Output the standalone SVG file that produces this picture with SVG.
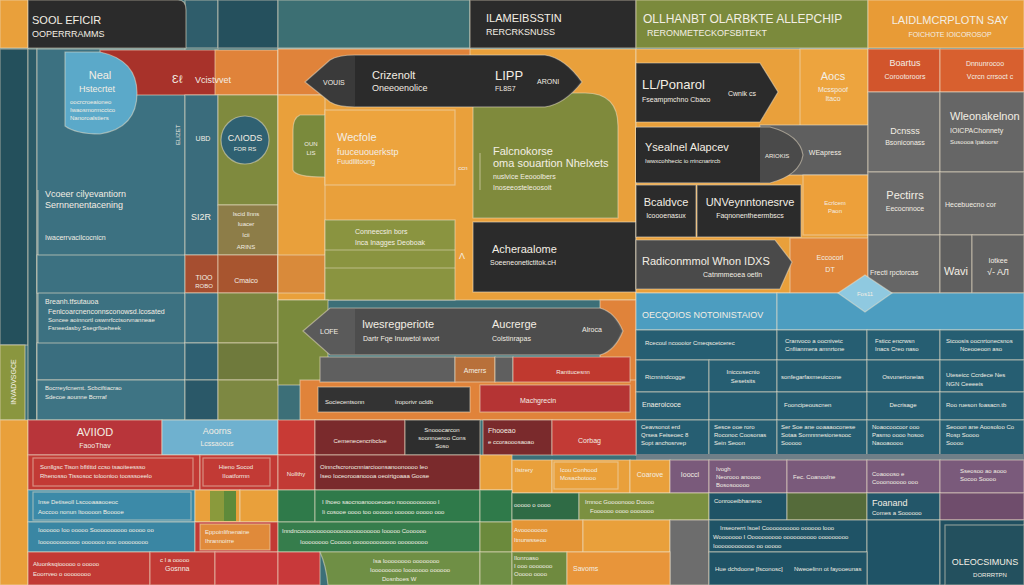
<svg xmlns="http://www.w3.org/2000/svg" width="1024" height="585" viewBox="0 0 1024 585">
<style>
rect,path,polygon,circle{stroke:#efe3cc;stroke-opacity:.5;stroke-width:1.2}
.n{stroke:none}
text{font-family:"Liberation Sans",Arial,sans-serif;fill:#f3eee4}
.xs{font-size:6px}.s{font-size:7px}.m{font-size:9px}.l{font-size:11px}.xl{font-size:13px}
.c{text-anchor:middle}
.or{fill:#E9A03B}.do{fill:#E0833A}.ch{fill:#2b2b2b}.gr{fill:#5f5f5f}.tl{fill:#3c7181}.dt{fill:#24505c}.ol{fill:#7f8a3e}.rd{fill:#c23a35}.dr{fill:#7a2a2c}.lb{fill:#4c9dc0}.pu{fill:#7a5a7b}.gn{fill:#2f7a4a}.ct{fill:#265e72}
</style>
<rect class="n" x="0" y="0" width="1024" height="585" fill="#3c6f78"/>
<!-- top row -->
<g id="top">
<rect class="or" x="0" y="0" width="28" height="48"/>
<rect x="185" y="0" width="33" height="48" fill="#2f5d6b"/>
<rect x="218" y="0" width="60" height="48" fill="#25505d"/>
<rect x="278" y="0" width="192" height="48" fill="#3c6f73"/>
<path class="ch" d="M28,0 H178 Q186,0 186,10 V48 H28 Z"/>
<text x="32" y="24" class="l">SOOL EFICIR</text>
<text x="32" y="37" class="m">OOPERRRAMMS</text>
<rect class="ch" x="470" y="0" width="166" height="48"/>
<text x="486" y="22" class="l">ILAMEIBSSTIN</text>
<text x="486" y="35" class="m">RERCRKSNUSS</text>
<rect x="636" y="0" width="232" height="48" fill="#7b8a3c"/>
<text x="643" y="23" style="font-size:12px">OLLHANBT OLARBKTE ALLEPCHIP</text>
<text x="647" y="36" class="m">RERONMETECKOFSBITEKT</text>
<rect x="868" y="0" width="156" height="48" fill="#E89B36"/>
<text x="950" y="24" class="l c">LAIDLMCRPLOTN SAY</text>
<text x="950" y="37" class="s c">FOICHOTE IOICOROSOP</text>
</g>
<!-- left column -->
<g id="left">
<rect class="dt" x="0" y="49" width="28" height="296"/>
<rect x="28" y="49" width="9" height="371" fill="#2b5a66"/>
<rect class="tl" x="37" y="49" width="148" height="371"/>
<rect x="100" y="50" width="118" height="45" fill="#a8322a"/>
<rect class="do" x="215" y="50" width="63" height="45"/>
<text x="172" y="83" class="l">Ɛℓ</text>
<text x="195" y="83" class="m">Vcistvvet</text>
<path d="M65,52 H100 Q137,60 137,93 Q137,128 100,134 Q76,134 65,126 Z" fill="#5ba9c9"/>
<text x="100" y="79" class="l c">Neal</text>
<text x="97" y="92" class="m c">Hstecrtet</text>
<text x="70" y="104" class="xs">oocrcroeaioneo</text>
<text x="70" y="112" class="xs">Iwaosmormcctco</text>
<text x="70" y="120" class="xs">Nanoroalstiers</text>
<text x="180" y="145" class="xs" transform="rotate(-90 180 145)">ELIZET</text>
<path d="M38,190 V255 M38,293 V420" fill="none"/>
<text x="45" y="197" class="m">Vcoeer cilyevantiorn</text>
<text x="45" y="208" class="m">Sernnenentacening</text>
<text x="45" y="240" class="s">Iwacerrvacilcocnicn</text>
<rect class="tl" x="37" y="255" width="148" height="38"/>
<text x="45" y="304" class="s">Breanh.tfsutauoa</text>
<text x="48" y="314" class="s">Fenlcoarcnenconnsconowsd.lcosated</text>
<text x="48" y="322" class="xs">Soncee aoinnortl oswnrfcctsorvnanneae</text>
<text x="48" y="330" class="xs">Fsneedasby Ssegrfioeheek</text>
<rect x="37" y="343" width="148" height="37" fill="#3a6e7f"/>
<rect x="37" y="380" width="148" height="40" fill="#3e7484"/>
<text x="45" y="390" class="xs">Bocrreyfcnernt. Scbciftiacrao</text>
<text x="45" y="399" class="xs">Sdecoe aounne Bcrrraf</text>
<rect x="0" y="345" width="25" height="75" fill="#8a963f"/>
<text x="16" y="382" class="s c" transform="rotate(-90 16 382)">INVADVSGCE</text>
<rect class="or" x="0" y="420" width="28" height="165"/>
<rect x="185" y="95" width="33" height="160" fill="#3a6c7c"/>
<text x="203" y="141" class="s c">UBD</text>
<text x="201" y="220" class="m c">SI2R</text>
<rect x="185" y="255" width="33" height="38" fill="#a64e30"/>
<text x="204" y="280" class="s c">TIOO</text>
<text x="204" y="288" class="xs c">ROBO</text>
<rect x="185" y="293" width="33" height="50" fill="#3b6f80"/>
<rect x="185" y="343" width="33" height="37" fill="#2e6072"/>
<rect x="185" y="380" width="33" height="40" fill="#2a5868"/>
<rect class="ol" x="218" y="95" width="60" height="110"/>
<circle cx="245" cy="140" r="24" fill="#2f6172"/>
<text x="245" y="141" class="m c">CΛIODS</text>
<text x="245" y="151" class="xs c">FOR RS</text>
<rect x="218" y="205" width="60" height="50" fill="#8d7d48"/>
<text x="246" y="216" class="xs c">Iscid Ilnns</text>
<text x="246" y="226" class="xs c">Iuacer</text>
<text x="246" y="237" class="xs c">Icii</text>
<text x="246" y="249" class="xs c">ARINS</text>
<rect x="218" y="255" width="60" height="38" fill="#a8552f"/>
<text x="246" y="283" class="s c">Cmaico</text>
<rect x="218" y="293" width="60" height="50" fill="#7b8540"/>
<rect x="218" y="343" width="60" height="37" fill="#6f7a3c"/>
<rect x="218" y="380" width="60" height="40" fill="#7d8842"/>
</g>
<!-- centre -->
<g id="centre">
<rect class="or" x="278" y="49" width="358" height="251"/>
<rect class="do" x="278" y="49" width="192" height="46"/>
<rect class="or" x="278" y="95" width="47" height="205"/>
<path d="M325,115 H300 Q293,118 293,130 V170 Q295,177 325,177 Z" fill="#7a8a3c"/>
<text x="311" y="146" class="xs c">OUN</text>
<text x="311" y="155" class="xs c">LIS</text>
<rect x="278" y="255" width="47" height="38" fill="#d98a3a"/>
<rect x="325" y="110" width="130" height="75" fill="#EDA43E"/>
<text x="337" y="141" class="l">Wecfole</text>
<text x="337" y="155" class="m">fuuceuouerkstp</text>
<text x="337" y="164" class="s">Fuudllitoong</text>
<rect x="325" y="220" width="130" height="80" fill="#8a9440"/>
<path d="M325,250 H455 M325,268 H455" fill="none"/>
<text x="355" y="234" class="s">Conneecsin bors</text>
<text x="355" y="245" class="s">Inca Inagges Deoboak</text>
<text x="463" y="170" class="xs c">ccn</text>
<text x="462" y="259" class="m c">Ʌ</text>
<path d="M473,93 H585 Q618,93 618,126 V218 H473 Z" fill="#7f8a3c"/>
<path d="M480,153 V190" fill="none"/>
<text x="493" y="155" class="l">Falcnokorse</text>
<text x="493" y="167" class="l">oma souartion Nhelxets</text>
<text x="493" y="179" class="s">nuslvice Eeooolbers</text>
<text x="493" y="190" class="s">Inoseeosteleoosoit</text>
<rect class="ch" x="473" y="222" width="163" height="70"/>
<text x="492" y="253" class="l">Acheraalome</text>
<text x="490" y="265" class="s">Soeeneonetictitok.cH</text>
<path d="M305,82 L330,60 Q338,55 355,55 L545,55 Q565,58 582,82 Q565,104 545,107 L355,107 Q338,107 330,102 Z" fill="#3a3a3a" stroke="#c8b89a" stroke-opacity="1" stroke-width="2"/>
<path class="n ch" d="M355,56 L545,56 Q564,59 580,82 Q564,103 545,106 L355,106 Z"/>
<text x="323" y="85" class="s">VOUIS</text>
<text x="372" y="79" class="l">Crizenolt</text>
<text x="372" y="91" class="m">Oneeoenolice</text>
<text x="495" y="80" class="xl">LIPP</text>
<text x="495" y="91" class="s">FL8S7</text>
<text x="537" y="84" class="s">ARONI</text>
</g>
<!-- middle left band -->
<g id="midband">
<rect x="278" y="300" width="50" height="85" fill="#7a8a3c"/>
<rect class="do" x="600" y="300" width="36" height="85"/>
<rect class="do" x="300" y="380" width="336" height="40"/>
<path d="M303,331 L330,308 H600 Q615,312 623,331 Q615,351 600,355 H330 Z" fill="#5a5a5a"/>
<path class="n" d="M355,309 H600 Q614,313 621,331 Q614,350 600,354 H355 Z" fill="#4d4d4d"/>
<text x="320" y="334" class="s">LOFE</text>
<text x="362" y="328" class="l">Iwesregperiote</text>
<text x="363" y="341" class="s">Dartr Fqe Inuwetol wvort</text>
<text x="492" y="328" class="l">Aucrerge</text>
<text x="492" y="341" class="s">Colstinrapas</text>
<text x="582" y="332" class="s">Alroca</text>
<rect class="gr" x="320" y="357" width="135" height="25"/>
<rect x="455" y="357" width="40" height="25" fill="#b8703a"/>
<text x="475" y="373" class="s c">Amerrs</text>
<rect class="gr" x="495" y="357" width="18" height="25"/>
<rect x="513" y="357" width="117" height="25" fill="#c0392f"/>
<text x="573" y="374" class="xs c">Ranttucesnn</text>
<rect x="318" y="387" width="152" height="25" fill="#333"/>
<text x="325" y="404" class="xs">Sociecentsonn</text>
<text x="395" y="404" class="xs">Iroporivr ocldb</text>
<rect x="480" y="385" width="150" height="27" fill="#b53434"/>
<text x="538" y="403" class="s c">Machgrecin</text>
</g>
<!-- right dark boxes -->
<g id="rightmid">
<rect class="or" x="636" y="49" width="232" height="244"/>
<rect x="800" y="49" width="68" height="78" fill="#EDA43E"/>
<text x="833" y="80" class="l c">Aocs</text>
<text x="833" y="92" class="s c">Mcsspoof</text>
<text x="833" y="101" class="s c">Itaco</text>
<path class="ch" d="M636,63 H760 L778,92 L760,122 H636 Z"/>
<text x="642" y="89" class="xl">LL/Ponarol</text>
<text x="642" y="102" class="s">Fseampmchno Cbaco</text>
<text x="728" y="96" class="s">Cwnik cs</text>
<rect class="gr" x="760" y="125" width="108" height="50" fill="#6a6a6a"/>
<text x="825" y="155" class="s c">WEapress</text>
<path d="M636,127 H770 Q800,135 803,155 Q800,175 770,183 H636 Z" fill="#4a4a4a"/>
<path class="n ch" d="M636,128 H760 V182 H636 Z"/>
<text x="645" y="151" class="l">Ysealnel Alapcev</text>
<text x="645" y="163" class="xs">Iwwxcohhecic io rrincnartrcb</text>
<text x="765" y="158" class="xs">ARIOKIS</text>
<rect class="ch" x="636" y="185" width="60" height="52"/>
<text x="666" y="206" class="l c">Bcaldvce</text>
<text x="666" y="218" class="s c">Icoooenasux</text>
<rect class="ch" x="697" y="185" width="104" height="52"/>
<text x="750" y="206" class="l c">UNVeynntonesrve</text>
<text x="750" y="218" class="s c">Faqnonentheermbscs</text>
<rect x="803" y="175" width="65" height="60" fill="#EDA03A"/>
<text x="835" y="205" class="xs c">Ecrlcem</text>
<text x="835" y="213" class="xs c">Paon</text>
<rect x="790" y="238" width="78" height="55" fill="#E0863A"/>
<text x="830" y="260" class="s c">Eccocorl</text>
<text x="830" y="272" class="s c">DT</text>
<path d="M636,240 H775 L792,262 L780,289 H636 Z" fill="#4a4a4a"/>
<text x="642" y="265" class="l">Radiconmmol Whon IDXS</text>
<text x="703" y="277" class="s">Catnmmeoea oetln</text>
</g>
<!-- far right -->
<g id="farright">
<rect x="868" y="49" width="72" height="43" fill="#d2552c"/>
<text x="905" y="66" class="m c">Boartus</text>
<text x="905" y="79" class="s c">Corootoroors</text>
<rect x="940" y="49" width="84" height="43" fill="#d8602f"/>
<text x="985" y="66" class="s c">Dnnunrocoo</text>
<text x="990" y="79" class="s c">Vcrcn crrsoct c</text>
<rect x="868" y="92" width="72" height="80" fill="#6a6a6a"/>
<text x="905" y="134" class="m c">Dcnsss</text>
<text x="905" y="145" class="s c">Bsoniconass</text>
<rect x="940" y="92" width="84" height="80" fill="#666"/>
<text x="950" y="120" class="l">Wleonakelnon</text>
<text x="950" y="133" class="s">IOICPAChonnety</text>
<text x="950" y="144" class="xs">Susoooa lpaloorsr</text>
<rect x="868" y="172" width="72" height="63" fill="#6a6a6a"/>
<text x="905" y="199" class="l c">Pectirrs</text>
<text x="905" y="211" class="s c">Eecocnnoce</text>
<rect x="940" y="172" width="84" height="63" fill="#676767"/>
<text x="945" y="207" class="s">Hecebuecno cor</text>
<rect x="868" y="235" width="72" height="58" fill="#666"/>
<text x="870" y="275" class="s">Frecti rpctorcas</text>
<rect x="940" y="235" width="32" height="58" fill="#5f5f5f"/>
<text x="956" y="275" class="l c">Wavi</text>
<rect x="972" y="235" width="52" height="58" fill="#626262"/>
<text x="998" y="263" class="s c">Iotkee</text>
<text x="998" y="275" class="m c">√- AЛ</text>
</g>
<!-- blue table -->
<g id="table">
<rect class="lb" x="636" y="293" width="141" height="37"/>
<rect class="lb" x="777" y="293" width="247" height="37"/>
<text x="642" y="318" class="m">OECQOIOS NOTOINISTAIOV</text>
<rect class="ct" x="636" y="330" width="141" height="30"/>
<text x="645" y="345" class="xs">Rcecoul ncoooior Cmeqscetcerec</text>
<rect class="ct" x="777" y="330" width="90" height="30"/>
<text x="785" y="343" class="xs">Cranvoco a oocnivetc</text>
<text x="785" y="351" class="xs">Cnfiianmera amnrtone</text>
<rect class="ct" x="867" y="330" width="73" height="30"/>
<text x="875" y="343" class="xs">Fsticc encrwsn</text>
<text x="875" y="351" class="xs">Inacs Creo naso</text>
<rect class="ct" x="940" y="330" width="84" height="30" fill="#2f7089"/>
<text x="946" y="343" class="xs">Stcoosis oocnrtonecsnos</text>
<text x="960" y="351" class="xs">Nceooeoon aso</text>
<rect class="ct" x="636" y="360" width="73" height="32"/>
<text x="645" y="379" class="xs">Rtcnnindcogge</text>
<rect class="ct" x="709" y="360" width="68" height="32"/>
<text x="743" y="374" class="xs c">Iniccosecnio</text>
<text x="743" y="383" class="xs c">Sesetsits</text>
<rect class="ct" x="777" y="360" width="90" height="32"/>
<text x="781" y="379" class="xs">sonfegarfaxmeuiccone</text>
<rect class="ct" x="867" y="360" width="73" height="32"/>
<text x="903" y="379" class="xs c">Osvunerioneias</text>
<rect class="ct" x="940" y="360" width="84" height="32"/>
<text x="946" y="377" class="xs">Uteseicc Ccrdece Nes</text>
<text x="946" y="386" class="xs">NGN Ceeeeis</text>
<rect class="ct" x="636" y="392" width="73" height="28" fill="#235a6d"/>
<text x="642" y="407" class="s">Enaeroicoce</text>
<rect class="ct" x="709" y="392" width="68" height="28" fill="#235a6d"/>
<rect class="ct" x="777" y="392" width="90" height="28" fill="#235a6d"/>
<text x="784" y="407" class="xs">Fooncipeouscnen</text>
<rect class="ct" x="867" y="392" width="73" height="28" fill="#235a6d"/>
<text x="903" y="407" class="xs c">Decrisage</text>
<rect class="ct" x="940" y="392" width="84" height="28" fill="#235a6d"/>
<text x="946" y="407" class="xs">Roo rueson foasacn.tb</text>
<rect class="ct" x="636" y="420" width="73" height="35" fill="#205468"/>
<text x="641" y="429" class="xs">Ceavsonot erd</text>
<text x="641" y="437" class="xs">Qrsea Feiseoec 8</text>
<text x="641" y="445" class="xs">Sopt anchosrvep</text>
<rect class="ct" x="709" y="420" width="68" height="35" fill="#205468"/>
<text x="714" y="429" class="xs">Sesce ooe roro</text>
<text x="714" y="437" class="xs">Roconoc Coosonas</text>
<text x="714" y="445" class="xs">Sein Seoon</text>
<rect class="ct" x="777" y="420" width="90" height="35" fill="#205468"/>
<text x="781" y="429" class="xs">Ser Soe ane ooaaaoconese</text>
<text x="781" y="437" class="xs">Sotaa Somnnnesionesooc</text>
<text x="781" y="445" class="xs">Sooooo</text>
<rect class="ct" x="867" y="420" width="73" height="35" fill="#205468"/>
<text x="872" y="429" class="xs">Noaocoocoor ooo</text>
<text x="872" y="437" class="xs">Pasmo oooo hosoo</text>
<text x="872" y="445" class="xs">Naooaoooo</text>
<rect class="ct" x="940" y="420" width="84" height="35" fill="#205468"/>
<text x="946" y="429" class="xs">Seooon ane Aoosoloo Co</text>
<text x="946" y="437" class="xs">Rosp Soooo</text>
<text x="946" y="445" class="xs">Soooo</text>
<rect class="n" x="636" y="454" width="388" height="6" fill="#6f7f88"/>
</g>
<!-- lower rows -->
<g id="lower">
<rect x="28" y="420" width="134" height="35" fill="#b8353a"/>
<text x="95" y="436" class="l c">AVIIOD</text>
<text x="95" y="448" class="s c">FaooThav</text>
<rect x="162" y="420" width="116" height="35" fill="#6fb1cf"/>
<text x="217" y="434" class="m c">Aoorns</text>
<text x="217" y="446" class="s c">Lcssaocus</text>
<rect x="278" y="420" width="37" height="35" fill="#c83a35"/>
<rect class="dr" x="315" y="420" width="90" height="35"/>
<text x="360" y="443" class="xs c">Cemenecencribcloe</text>
<rect x="405" y="420" width="75" height="35" fill="#2e2e2e"/>
<text x="442" y="432" class="xs c">Snooocarcon</text>
<text x="442" y="440" class="xs c">soonnoeroo Cons</text>
<text x="442" y="448" class="xs c">Soso</text>
<rect class="dr" x="483" y="420" width="69" height="35"/>
<text x="488" y="433" class="s">Fhooeao</text>
<text x="488" y="444" class="xs">e ccoraooosaoao</text>
<rect class="rd" x="552" y="420" width="84" height="35" fill="#cc3c36"/>
<text x="578" y="443" class="s">Corbag</text>

<rect class="rd" x="28" y="455" width="172" height="35"/>
<rect class="rd" x="33" y="458" width="160" height="28"/>
<text x="40" y="469" class="xs">Sonllgsc Tison bfltlttd ccso tsaoiteessso</text>
<text x="40" y="478" class="xs">Rhenosso Tissosoc toloonioo toosssoeelo</text>
<rect class="rd" x="200" y="455" width="78" height="35"/>
<rect class="rd" x="203" y="458" width="67" height="28"/>
<text x="236" y="469" class="xs c">Hieno Socod</text>
<text x="236" y="478" class="xs c">IIoatforrnn</text>
<rect class="rd" x="278" y="455" width="37" height="35" fill="#c83a35"/>
<text x="296" y="476" class="xs c">Nollthy</text>
<rect class="dr" x="315" y="455" width="165" height="35"/>
<text x="320" y="469" class="xs">Oinncfscrorocnniarcioonsanoonoooo Ieo</text>
<text x="320" y="478" class="xs">Iseo Ioceorooanoooa oeoirtgoaaa Goose</text>
<rect class="or" x="480" y="455" width="32" height="35"/>
<rect class="or" x="512" y="460" width="40" height="33"/>
<text x="515" y="472" class="xs">Ilstrery</text>
<rect class="or" x="552" y="460" width="78" height="33"/>
<rect class="or" x="554" y="462" width="64" height="27"/>
<text x="560" y="472" class="xs">Icou Conhood</text>
<text x="560" y="480" class="xs">Mosacbotooo</text>
<rect class="or" x="630" y="460" width="40" height="33"/>
<text x="650" y="477" class="s c">Coarove</text>
<rect class="pu" x="670" y="460" width="39" height="33"/>
<text x="690" y="477" class="s c">Iooccl</text>
<rect class="pu" x="709" y="460" width="78" height="33"/>
<text x="716" y="471" class="xs">Ivogh</text>
<text x="716" y="479" class="xs">Neorooo anoooo</text>
<text x="716" y="487" class="xs">Bososooooo</text>
<rect class="pu" x="787" y="460" width="80" height="33"/>
<text x="793" y="479" class="xs">Fec.  Coanoolne</text>
<rect class="pu" x="867" y="460" width="73" height="33"/>
<text x="872" y="476" class="xs">Coaoooso e</text>
<text x="872" y="484" class="xs">Cooonooooo ooo</text>
<rect class="pu" x="940" y="460" width="84" height="33"/>
<text x="960" y="473" class="xs">Sseosoo ao aooo</text>
<text x="960" y="481" class="xs">Socoo Soooo</text>

<rect x="28" y="490" width="167" height="32" fill="#3c8aa8"/>
<rect x="33" y="492" width="158" height="28" fill="#3c8aa8"/>
<text x="38" y="504" class="xs">Inse Detiseoll Lscooaaaooeoc</text>
<text x="38" y="514" class="xs">Aoccoo nonun Itooooon Booooe</text>
<rect class="or" x="195" y="490" width="45" height="32"/>
<rect class="n" x="210" y="491" width="14" height="30" fill="#8a9a3c"/>
<rect class="n" x="224" y="491" width="12" height="30" fill="#5e8a3a"/>
<rect class="or" x="240" y="490" width="38" height="32"/>
<rect class="gn" x="278" y="490" width="37" height="32"/>
<rect class="gn" x="315" y="490" width="165" height="32"/>
<text x="322" y="504" class="xs">I Ihoeo saocnoanoooeooeo nooooooooooo l</text>
<text x="322" y="514" class="xs">Ii cosooe oooo too oooooo oooooo ooooo ooo</text>
<rect class="gn" x="480" y="490" width="32" height="32"/>
<rect x="512" y="493" width="67" height="27" fill="#2f6b45"/>
<text x="514" y="507" class="xs">ooooo o oooo</text>
<rect x="579" y="493" width="130" height="27" fill="#7b9040"/>
<text x="585" y="504" class="xs">Irnnoc Goooonooo Doooo</text>
<text x="590" y="513" class="xs">Foooooo oooo ooooooo</text>
<rect x="709" y="493" width="78" height="27" fill="#1f5366"/>
<text x="714" y="503" class="xs">Conrooeibhaneno</text>
<rect x="787" y="493" width="80" height="27" fill="#556b3a"/>
<rect x="867" y="493" width="73" height="27" fill="#235669"/>
<text x="872" y="506" class="m">Foanand</text>
<text x="872" y="515" class="xs">Comes a Soooooo</text>
<rect x="940" y="493" width="84" height="27" fill="#6f4d6c"/>

<rect x="28" y="522" width="167" height="30" fill="#3a86a3"/>
<text x="38" y="532" class="xs">Ioooooo Ioo ooooo Soooooooooo ooooo oo</text>
<text x="38" y="544" class="xs">Ioooooooooooo ooooooo ooo ooooooooo</text>
<rect class="rd" x="195" y="522" width="83" height="30"/>
<rect x="200" y="524" width="70" height="26" fill="#e08a3a"/>
<text x="205" y="534" class="xs">Eppoinlifnenaine</text>
<text x="205" y="543" class="xs">Ihrannoirre</text>
<rect x="278" y="522" width="202" height="30" fill="#367d4c"/>
<text x="282" y="533" class="xs">Inndncoooooooooooooooooooooooo Iooooo Coooooo</text>
<text x="300" y="544" class="xs">Ioooooooo Cooooo ooooooooooooo ooooooooo</text>
<rect x="480" y="522" width="32" height="30" fill="#6b8a3c"/>
<rect x="512" y="520" width="71" height="32" fill="#E49536"/>
<text x="514" y="532" class="xs">Avoooooooo</text>
<text x="514" y="542" class="xs">Itnurwsseoo</text>
<rect class="or" x="583" y="520" width="87" height="32"/>
<rect x="670" y="520" width="39" height="65" fill="#6d6d6d"/>
<rect x="709" y="520" width="158" height="32" fill="#1f5366"/>
<text x="720" y="530" class="xs">Inseorerrt lsoeI Coooooooooo oooooo looo</text>
<text x="713" y="539" class="xs">Wooooooo I Oooooooooo oooooooooo ooooooooo</text>
<text x="713" y="548" class="xs">Ioooooooooooo oo ooooo</text>
<rect x="867" y="520" width="73" height="65" fill="#1f5366"/>
<rect x="940" y="520" width="84" height="65" fill="#204f60"/>

<rect class="rd" x="28" y="552" width="122" height="33"/>
<text x="33" y="566" class="xs">Aluonksqiooooo o ooooo</text>
<text x="33" y="576" class="xs">Eoorrveo o oooooooo</text>
<rect class="rd" x="150" y="552" width="65" height="33"/>
<text x="160" y="562" class="xs">c l a ooooo</text>
<text x="165" y="571" class="s">Gosnna</text>
<rect x="215" y="552" width="63" height="33" fill="#c8393a"/>
<rect x="278" y="552" width="42" height="33" fill="#c8393a"/>
<path d="M320,552 H480 V585 H328 Q326,565 320,552 Z" fill="#6f8f45"/>
<text x="373" y="563" class="xs">Isa Ioooooooo oooooooo</text>
<text x="370" y="572" class="xs">Iooooooooo Iooooooo oooooo</text>
<text x="382" y="581" class="xs">Dosnboes W</text>
<rect x="480" y="552" width="32" height="33" fill="#6f8f45"/>
<rect x="512" y="552" width="55" height="33" fill="#6f8a3f"/>
<text x="514" y="560" class="xs">Ilonroaso</text>
<text x="514" y="568" class="xs">I ooo ooooooo</text>
<text x="514" y="576" class="xs">Ooooo oooo</text>
<rect x="567" y="552" width="103" height="33" fill="#E8953A"/>
<text x="573" y="571" class="s">Savoms</text>
<rect x="709" y="552" width="158" height="33" fill="#1f5366"/>
<text x="715" y="571" class="xs">Hue dchdoone [fsconosc]</text>
<text x="794" y="571" class="xs">Nweoelinn ot fayooeunas</text>
<rect x="945" y="525" width="79" height="60" fill="#23505e"/>
<text x="985" y="565" class="m c">OLEOCSIMUNS</text>
<text x="990" y="577" class="xs c">DORRRTPN</text>
</g>
<!-- diamond -->
<g id="diamond">
<polygon points="838,293 865,275 892,293 865,312" fill="#8fc9e0" stroke="#ffffff" stroke-opacity=".9"/>
<text x="865" y="296" class="xs c">Fos11</text>
</g>
</svg>
